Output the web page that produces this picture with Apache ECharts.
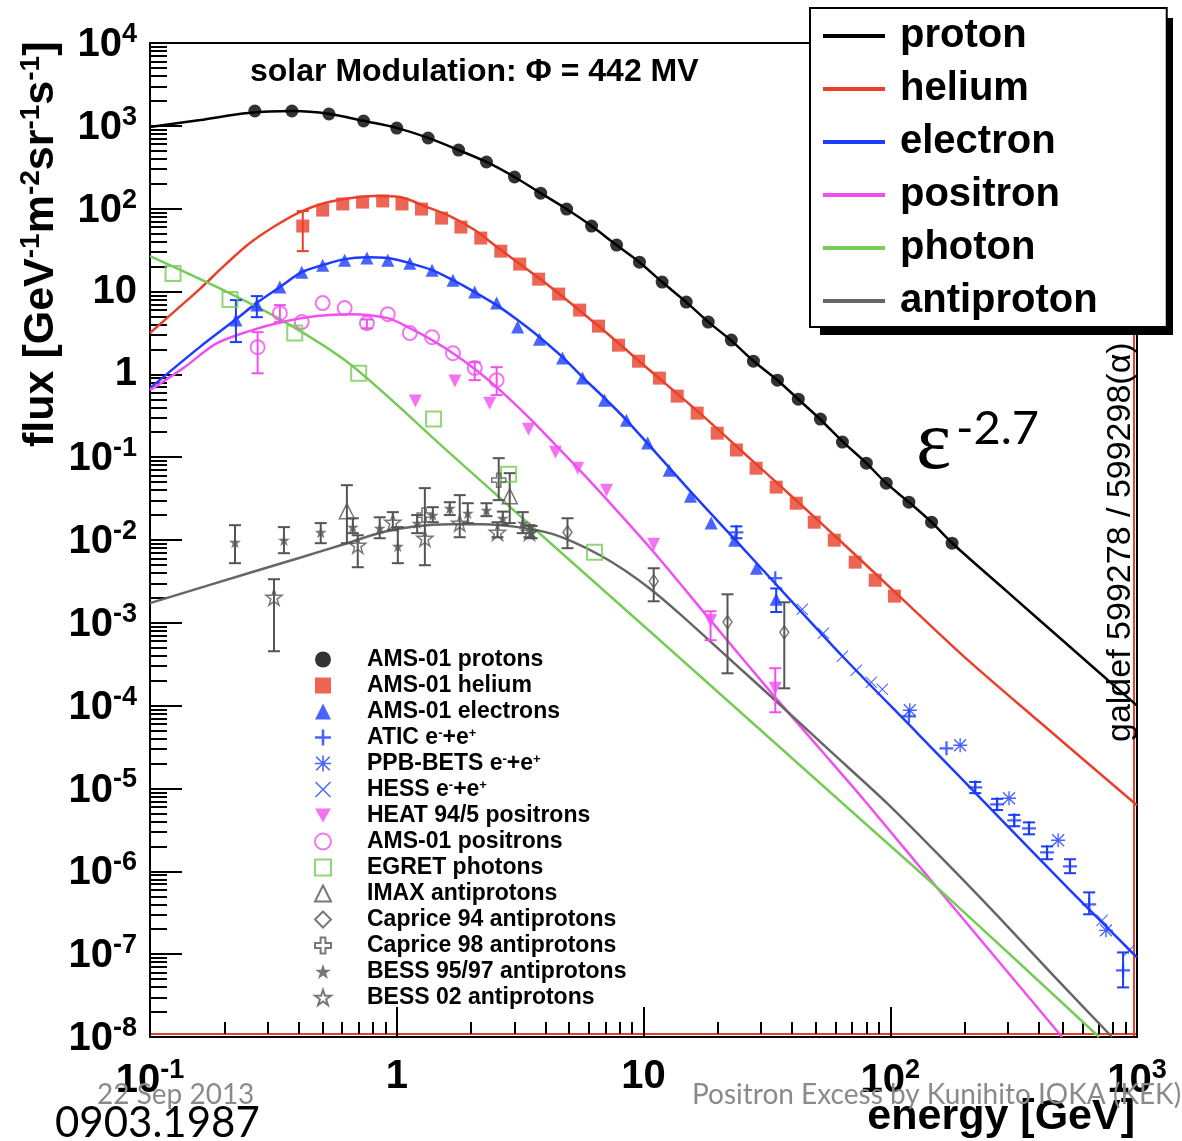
<!DOCTYPE html>
<html>
<head>
<meta charset="utf-8">
<script src="https://cdn.jsdelivr.net/npm/echarts@6/dist/echarts.min.js"></script>
<style>
html, body { margin: 0; padding: 0; background: #fff; }
#chart { width: 1182px; height: 1141px; }
</style>
</head>
<body>
<div id="chart"></div>
<script>
// axis ticks
const energyTicks = [0.1, 1, 10, 100, 1000];
const fluxTicks = [1e-8, 1e-7, 1e-6, 1e-5, 1e-4, 1e-3, 1e-2, 1e-1, 1, 10, 100, 1000, 10000];

// model curves [E (GeV), flux]
const protonModel = [[0.1, 968], [0.16, 1175], [0.25, 1430], [0.38, 1510], [0.53, 1400], [0.73, 1150], [1.0, 945], [1.34, 715], [1.78, 510], [2.31, 366], [3.0, 241], [3.83, 154], [4.88, 99], [6.16, 61.7], [7.78, 36.3], [9.63, 22.6], [11.9, 13], [14.9, 7.45], [18.3, 4.3], [22.7, 2.55], [27.9, 1.45], [34.9, 0.85], [42.4, 0.5], [52.1, 0.285], [64, 0.155], [80, 0.0847], [96.3, 0.0485], [119, 0.0286], [147, 0.0164], [178, 0.0092], [300, 2.33e-3], [500, 6.12e-4], [1000, 1.0e-4]];
const heliumModel = [[0.1, 3.15], [0.126, 5.8], [0.159, 10.7], [0.201, 20.8], [0.254, 38.4], [0.321, 61.7], [0.405, 91], [0.511, 117], [0.646, 134], [0.815, 142], [1.03, 138], [1.3, 107], [1.64, 81.4], [2.07, 55.2], [2.61, 32.5], [4.16, 11.6], [6.64, 3.72], [10.6, 1.12], [16.9, 0.34], [26.9, 0.0973], [42.8, 0.0278], [68.2, 7.74e-3], [109, 2.09e-3], [200, 3.86e-4], [400, 6.48e-5], [1000, 6.27e-6]];
const electronModel = [[0.1, 0.681], [0.159, 2.13], [0.221, 4.52], [0.27, 7.24], [0.336, 11.3], [0.412, 17.1], [0.501, 20.8], [0.615, 24.6], [0.757, 26.0], [0.92, 25.3], [1.13, 22.0], [1.39, 18.1], [1.69, 13.7], [2.07, 9.84], [2.54, 6.85], [3.09, 4.52], [3.79, 2.81], [4.7, 1.61], [5.66, 0.925], [6.95, 0.516], [8.53, 0.28], [15.6, 0.0378], [23.8, 9.68e-3], [39.0, 1.95e-3], [64, 3.95e-4], [131, 4.42e-5], [276, 4.49e-6], [531, 6.07e-7], [1000, 9.14e-8]];
const positronModel = [[0.1, 0.645], [0.136, 1.18], [0.186, 2.36], [0.254, 3.35], [0.347, 4.31], [0.473, 5.05], [0.646, 5.33], [0.92, 4.77], [1.13, 3.61], [1.39, 2.59], [1.69, 1.8], [2.07, 1.16], [2.54, 0.7], [3.45, 0.296], [4.4, 0.14], [5.66, 0.0641], [7.08, 0.0311], [11.1, 6.93e-3], [18.7, 1.07e-3], [34.2, 1.26e-4], [51.6, 3.06e-5], [78.5, 7.2e-6], [173, 4.26e-7], [497, 1e-8]];
const photonModel = [[0.1, 26.8], [0.187, 11.3], [0.347, 4.39], [0.646, 1.33], [1.64, 0.112], [4.16, 9.4e-3], [10.6, 7.92e-4], [26.9, 6.67e-5], [68.2, 5.61e-6], [173, 4.72e-7], [702, 1e-8]];
const antiprotonModel = [[0.1, 1.73e-3], [0.254, 4.02e-3], [0.405, 6.11e-3], [0.625, 9.08e-3], [0.881, 0.0125], [1.2, 0.0147], [1.64, 0.0155], [2.24, 0.0155], [3.05, 0.0144], [4.16, 0.0121], [5.26, 9.31e-3], [6.64, 6.59e-3], [8.38, 4.32e-3], [10.57, 2.61e-3], [13.99, 1.29e-3], [22.3, 3.67e-4], [35.2, 1.07e-4], [56.6, 2.9e-5], [97.2, 6.62e-6], [173, 1.18e-6], [276, 2.78e-7], [440, 6.28e-8], [792, 1e-8]];

// measurements [E, flux, (low, high)]
const amsProtons = [[0.266, 1510], [0.376, 1510], [0.531, 1390], [0.734, 1143], [1.0, 940], [1.34, 713], [1.78, 510], [2.31, 366], [3.0, 241], [3.83, 154], [4.88, 98.9], [6.16, 61.7], [7.78, 36.3], [9.63, 22.6], [11.9, 13.0], [14.9, 7.45], [18.3, 4.27], [22.7, 2.59], [27.9, 1.44], [34.9, 0.851], [42.4, 0.501], [52.1, 0.288], [64.0, 0.152], [80.0, 0.0847], [96.3, 0.0485], [119, 0.0286], [147, 0.0164], [178, 0.00915]];
const amsHelium = [[0.416, 61.7, 30.7, 93.5], [0.501, 96.2], [0.604, 114], [0.727, 120], [0.877, 124], [1.05, 114], [1.26, 98.9], [1.52, 76.9], [1.82, 60.0], [2.19, 44.2], [2.64, 30.7], [3.15, 21.4], [3.76, 14.1], [4.53, 9.31], [5.51, 5.96], [6.57, 3.82], [7.92, 2.25], [9.55, 1.44], [11.6, 0.9], [13.7, 0.546], [16.5, 0.34], [19.9, 0.195], [23.8, 0.122], [28.6, 0.0736], [34.5, 0.0435], [41.6, 0.0278], [49.2, 0.0164], [59.3, 0.00995], [72.1, 0.0054], [86.9, 0.00327], [104, 0.0021]];
const amsElectrons = [[0.223, 4.52, 2.45, 7.87], [0.271, 6.85, 4.9, 8.8], [0.336, 11.3], [0.412, 17.1], [0.501, 20.8], [0.615, 23.9], [0.757, 25.3], [0.92, 23.9], [1.13, 22.0], [1.39, 18.1], [1.69, 13.7], [2.07, 9.84], [2.54, 7.24], [3.09, 3.72], [3.79, 2.66], [4.7, 1.57], [5.66, 0.9], [6.95, 0.488], [8.53, 0.28], [10.4, 0.148], [12.7, 0.0697], [15.5, 0.0338], [18.8, 0.016], [23.4, 0.00995], [28.7, 0.00456], [34.5, 0.00193, 0.00135, 0.0026]];
const aticEE = [[23.8, 0.0124, 0.0105, 0.0146], [34.2, 0.00346], [119, 7.45e-5], [169, 3.06e-5], [221, 1.03e-5, 8.8e-6, 1.2e-5], [271, 6.44e-6, 5.5e-6, 7.5e-6], [318, 4.13e-6, 3.5e-6, 4.8e-6], [365, 3.31e-6, 2.8e-6, 3.9e-6], [432, 1.69e-6, 1.4e-6, 2.0e-6], [535, 1.15e-6, 9.5e-7, 1.4e-6], [640, 3.99e-7, 3.03e-7, 5.57e-7], [878, 6.37e-8, 3.97e-8, 1.05e-7]];
const ppbBetsEE = [[120, 8.79e-5], [192, 3.33e-5], [303, 7.62e-6], [479, 2.37e-6], [749, 1.94e-7]];
const hessEE = [[44.0, 0.00146], [53.6, 7.48e-4], [64.0, 3.95e-4], [72.8, 2.68e-4], [83.8, 1.92e-4], [92.9, 1.58e-4], [722, 2.56e-7], [929, 1.11e-7]];
const heatPositrons = [[1.19, 0.475], [1.72, 0.828], [2.38, 0.449], [3.42, 0.218], [4.4, 0.115], [5.41, 0.0736], [7.08, 0.0399], [11.0, 0.00889], [18.7, 0.00107, 6.17e-4, 0.00138], [34.2, 1.62e-4, 8.32e-5, 2.83e-4]];
const amsPositrons = [[0.273, 2.13, 1.03, 3.23], [0.336, 5.48, 4.27, 6.85], [0.412, 4.27], [0.501, 7.24], [0.615, 6.3], [0.757, 4.15, 3.6, 4.6], [0.92, 5.33], [1.13, 3.15], [1.39, 2.81], [1.69, 1.8], [2.07, 1.19, 0.85, 1.4], [2.54, 0.851, 0.561, 1.22]];
const egretPhotons = [[0.124, 16.5], [0.211, 8.03], [0.386, 3.15], [0.701, 1.03], [1.41, 0.288], [2.84, 0.0623], [6.33, 0.00713]];
const imaxPbar = [[0.628, 0.0223, 0.00915, 0.0459], [2.87, 0.0338, 0.016, 0.0641]];
const caprice94Pbar = [[4.92, 0.0124, 0.00796, 0.0183], [11.0, 0.00318, 0.00182, 0.00456], [21.9, 0.00102, 2.46e-4, 0.00221], [37.2, 7.69e-4, 1.62e-4, 0.00177]];
const caprice98Pbar = [[1.29, 0.02], [2.59, 0.0527, 0.0303, 0.0973]];
const bess9597Pbar = [[0.221, 9.4e-3, 5.25e-3, 0.0151], [0.349, 9.95e-3, 6.93e-3, 0.0143], [0.492, 0.0124, 9.15e-3, 0.016], [0.664, 0.0143, 0.0121, 0.0183], [0.853, 0.0139, 0.0105, 0.0188], [1.01, 8.41e-3, 5.25e-3, 0.0143], [1.21, 0.016, 0.0121, 0.02], [1.4, 0.02, 0.0164, 0.0249], [1.64, 0.0242, 0.02, 0.0286], [1.94, 0.0211, 0.016, 0.0278], [2.31, 0.0229, 0.0194, 0.0278], [2.69, 0.0183, 0.0152, 0.022], [3.24, 0.016, 0.0121, 0.0217], [3.52, 0.0124, 0.0105, 0.0148]];
const bess02Pbar = [[0.318, 2.04e-3, 4.54e-4, 3.36e-3], [0.695, 8.65e-3, 4.69e-3, 0.0114], [0.964, 0.0164, 0.0131, 0.0217], [1.3, 0.0105, 4.96e-3, 0.0423], [1.8, 0.016, 0.0108, 0.0348], [2.56, 0.0124, 0.0108, 0.0164], [3.45, 0.0124, 0.0108, 0.0151]];

const C = { p: '#000000', he: '#e8402a', e: '#1c3cff', pos: '#f050f0', ph: '#76cc58', pbar: '#666666', pbarPt: '#555555' };
const FONT = 'Liberation Sans';

// symbols
const PLUS = 'path://M42,0H58V100H42Z M0,42H100V58H0Z';
const XMARK = 'path://M6,0L50,44L94,0L100,6L56,50L100,94L94,100L50,56L6,100L0,94L44,50L0,6Z';
const ASTER = 'path://M45,0H55V100H45Z M0,45H100V55H0Z M11,4L96,89L89,96L4,11Z M89,4L96,11L11,96L4,89Z';
const STAR = 'path://M50,0L61.8,35.5L99,35.5L69,57.5L80.5,93L50,71L19.5,93L31,57.5L1,35.5L38.2,35.5Z';
const CROSS = 'path://M35,0H65V35H100V65H65V100H35V65H0V35H35Z';
const DOWN = 'path://M0,0H100L50,87Z';
const NOFILL = 'rgba(255,255,255,0)';

// minor tick positions 2..9 per decade
const minorOf = (decades) => {
    let out = [];
    decades.slice(0, -1).forEach(d => { for (let m = 2; m <= 9; m++) out.push(m * d); });
    return out;
};

const labelRich = {
    b: { fontSize: 40, fontWeight: 'bold', fontFamily: FONT, color: '#000', verticalAlign: 'bottom' },
    s: { fontSize: 27, fontWeight: 'bold', fontFamily: FONT, color: '#000', verticalAlign: 'top', padding: [0, 0, 17, 0] }
};
const powLabel = (v) => {
    let k = Math.round(Math.log10(v));
    if (k === 0) return '{b|1}';
    if (k === 1) return '{b|10}';
    return '{b|10}{s|' + k + '}';
};

// error bars
const errBars = (data, color) => ({
    type: 'custom',
    data: data.filter(d => d.length > 3),
    encode: { x: 0, y: 1 },
    z: 3,
    silent: true,
    renderItem: (params, api) => {
        let lo = api.coord([api.value(0), api.value(2)]);
        let hi = api.coord([api.value(0), api.value(3)]);
        let w = 6;
        let st = { stroke: color, lineWidth: 2 };
        return {
            type: 'group',
            children: [
                { type: 'line', shape: { x1: lo[0], y1: lo[1], x2: hi[0], y2: hi[1] }, style: st },
                { type: 'line', shape: { x1: lo[0] - w, y1: lo[1], x2: lo[0] + w, y2: lo[1] }, style: st },
                { type: 'line', shape: { x1: hi[0] - w, y1: hi[1], x2: hi[0] + w, y2: hi[1] }, style: st }
            ]
        };
    }
});

const curve = (name, data, color) => ({
    type: 'line', name: name, data: data, showSymbol: false, smooth: 0.3, z: 2, silent: true,
    lineStyle: { color: color, width: 2.5 }, itemStyle: { color: color }
});

const points = (name, data, symbol, size, color, open, extra) => Object.assign({
    type: 'scatter', name: name, data: data.map(d => [d[0], d[1]]), symbol: symbol, symbolSize: size, z: 4, silent: true,
    itemStyle: open ? { color: NOFILL, borderColor: color, borderWidth: 2 } : { color: color }
}, extra || {});

const thin = (color) => ({ itemStyle: { color: NOFILL, borderColor: color, borderWidth: 1.5 } });

const markerNames = ['AMS-01 protons', 'AMS-01 helium', 'AMS-01 electrons', 'ATIC e-+e+', 'PPB-BETS e-+e+', 'HESS e-+e+', 'HEAT 94/5 positrons', 'AMS-01 positrons', 'EGRET photons', 'IMAX antiprotons', 'Caprice 94 antiprotons', 'Caprice 98 antiprotons', 'BESS 95/97 antiprotons', 'BESS 02 antiprotons'];

const chart = echarts.init(document.getElementById('chart'));

const option = {
    animation: false,
    backgroundColor: '#fff',
    grid: { left: 150, right: 45, top: 43, bottom: 104, show: true, borderColor: '#000', borderWidth: 2, backgroundColor: NOFILL },
    xAxis: [
        {
            type: 'log', logBase: 10, min: 0.1, max: 1000, position: 'bottom',
            axisLine: { show: true, onZero: false, lineStyle: { color: '#000', width: 2 } },
            axisTick: { show: true, inside: true, length: 30, customValues: energyTicks, lineStyle: { color: '#000', width: 2 } },
            axisLabel: { customValues: energyTicks, margin: 20, formatter: powLabel, rich: labelRich },
            splitLine: { show: false }, minorTick: { show: false }
        },
        {
            type: 'log', logBase: 10, min: 0.1, max: 1000, position: 'bottom', offset: -3,
            axisLine: { show: true, onZero: false, lineStyle: { color: '#e8402a', width: 2 } },
            axisTick: { show: true, inside: true, length: 12, customValues: minorOf(energyTicks), lineStyle: { color: '#000', width: 2 } },
            axisLabel: { show: false }, splitLine: { show: false }
        }
    ],
    yAxis: [
        {
            type: 'log', logBase: 10, min: 1e-8, max: 1e4, position: 'left',
            axisLine: { show: true, onZero: false, lineStyle: { color: '#000', width: 2 } },
            axisTick: { show: true, inside: true, length: 32, customValues: fluxTicks, lineStyle: { color: '#000', width: 2 } },
            axisLabel: { customValues: fluxTicks, margin: 13, formatter: powLabel, rich: labelRich },
            splitLine: { show: false }
        },
        {
            type: 'log', logBase: 10, min: 1e-8, max: 1e4, position: 'left',
            axisLine: { show: false },
            axisTick: { show: true, inside: true, length: 17, customValues: minorOf(fluxTicks), lineStyle: { color: '#000', width: 2 } },
            axisLabel: { show: false }, splitLine: { show: false }
        },
        {
            type: 'log', logBase: 10, min: 1e-8, max: 1e4, position: 'right', offset: -3,
            axisLine: { show: true, onZero: false, lineStyle: { color: '#e8402a', width: 2 } },
            axisTick: { show: false }, axisLabel: { show: false }, splitLine: { show: false }
        }
    ],
    legend: [
        {
            data: ['proton', 'helium', 'electron', 'positron', 'photon', 'antiproton'],
            orient: 'vertical', left: 810, top: 8, padding: [8, 69, 6, 13],
            icon: 'rect', itemWidth: 62, itemHeight: 4, itemGap: 13, selectedMode: false,
            backgroundColor: '#fff', borderColor: '#000', borderWidth: 2,
            textStyle: { fontSize: 40, fontWeight: 'bold', fontFamily: FONT, color: '#000', lineHeight: 40, padding: [0, 0, 0, 10] },
            z: 10
        },
        {
            data: markerNames.map(n => n === 'HEAT 94/5 positrons' ? { name: n, icon: DOWN } : n),
            orient: 'vertical', left: 309, top: 643, padding: 5,
            itemWidth: 16, itemHeight: 16, itemGap: 3, selectedMode: false,
            formatter: (n) => n.replace('e-+e+', 'e{s|-}+e{s|+}'),
            textStyle: {
                fontSize: 23, fontWeight: 'bold', fontFamily: FONT, color: '#000', lineHeight: 22, padding: [0, 0, 0, 31],
                rich: { s: { fontSize: 13, fontWeight: 'bold', fontFamily: FONT, verticalAlign: 'top', padding: [0, 0, 9, 0] } }
            },
            z: 10
        }
    ],
    graphic: [
        { type: 'rect', z: 9, shape: { x: 820, y: 18, width: 353, height: 317 }, style: { fill: '#000' } },
        { type: 'text', x: 250, y: 72, z: 100, style: { text: 'solar Modulation: Φ = 442 MV', fontSize: 32, fontWeight: 'bold', fontFamily: FONT, fill: '#000', verticalAlign: 'middle' } },
        { type: 'text', x: 916, y: 446, z: 100, style: { text: 'ε', fontSize: 84, fontFamily: 'Liberation Serif', fill: '#000', verticalAlign: 'middle' } },
        { type: 'text', x: 956, y: 429, z: 100, style: { text: '-2.7', fontSize: 47, fontFamily: 'Lato', fill: '#000', verticalAlign: 'middle' } },
        { type: 'text', x: 1121, y: 742, rotation: Math.PI / 2, z: 100, style: { text: 'galdef 599278 / 599298(α)', fontSize: 34, fontFamily: FONT, fill: '#000', align: 'left', verticalAlign: 'middle' } },
        {
            type: 'text', x: 40, y: 447, rotation: Math.PI / 2, z: 100,
            style: {
                text: '{b|flux [GeV}{s|-1}{b|m}{s|-2}{b|sr}{s|-1}{b|s}{s|-1}{b|]}', align: 'left', verticalAlign: 'middle',
                rich: {
                    b: { fontSize: 43, fontWeight: 'bold', fontFamily: FONT, fill: '#000', verticalAlign: 'bottom' },
                    s: { fontSize: 28, fontWeight: 'bold', fontFamily: FONT, fill: '#000', verticalAlign: 'top', padding: [0, 0, 18, 0] }
                }
            }
        },
        { type: 'text', x: 1135, y: 1117, z: 100, style: { text: 'energy [GeV]', fontSize: 43, fontWeight: 'bold', fontFamily: FONT, fill: '#000', align: 'right', verticalAlign: 'middle' } },
        { type: 'text', x: 97, y: 1095, z: 100, style: { text: '22 Sep 2013', fontSize: 28, fontFamily: 'Lato', fill: '#8a8a8a', verticalAlign: 'middle' } },
        { type: 'text', x: 692, y: 1095, z: 100, style: { text: 'Positron Excess by Kunihito IOKA (KEK)', fontSize: 28, fontFamily: 'Lato', fill: '#8a8a8a', verticalAlign: 'middle' } },
        { type: 'text', x: 55, y: 1123, z: 100, style: { text: '0903.1987', fontSize: 42, fontFamily: 'Lato', fill: '#000', verticalAlign: 'middle' } }
    ],
    series: [
        curve('proton', protonModel, C.p),
        curve('helium', heliumModel, C.he),
        curve('electron', electronModel, C.e),
        curve('positron', positronModel, C.pos),
        curve('photon', photonModel, C.ph),
        curve('antiproton', antiprotonModel, C.pbar),

        errBars(amsHelium, C.he),
        errBars(amsElectrons, C.e),
        errBars(aticEE, C.e),
        errBars(heatPositrons, C.pos),
        errBars(amsPositrons, C.pos),
        errBars(imaxPbar, C.pbarPt),
        errBars(caprice94Pbar, C.pbarPt),
        errBars(caprice98Pbar, C.pbarPt),
        errBars(bess9597Pbar, C.pbarPt),
        errBars(bess02Pbar, C.pbarPt),

        points('AMS-01 protons', amsProtons, 'circle', 13, C.p),
        points('AMS-01 helium', amsHelium, 'rect', 13, C.he),
        points('AMS-01 electrons', amsElectrons, 'triangle', 13, C.e),
        points('ATIC e-+e+', aticEE, PLUS, 14, C.e),
        points('PPB-BETS e-+e+', ppbBetsEE, ASTER, 14, C.e),
        points('HESS e-+e+', hessEE, XMARK, 12, C.e),
        points('HEAT 94/5 positrons', heatPositrons, DOWN, 13, C.pos),
        points('AMS-01 positrons', amsPositrons, 'circle', 14, C.pos, true),
        points('EGRET photons', egretPhotons, 'rect', 15, C.ph, true),
        points('IMAX antiprotons', imaxPbar, 'triangle', 15, C.pbarPt, true, thin(C.pbarPt)),
        points('Caprice 94 antiprotons', caprice94Pbar, 'diamond', [9, 13], C.pbarPt, true, thin(C.pbarPt)),
        points('Caprice 98 antiprotons', caprice98Pbar, CROSS, 14, C.pbarPt, true, thin(C.pbarPt)),
        points('BESS 95/97 antiprotons', bess9597Pbar, STAR, 12, C.pbarPt),
        points('BESS 02 antiprotons', bess02Pbar, STAR, 16, C.pbarPt, true, thin(C.pbarPt))
    ]
};

chart.setOption(option);
</script>
</body>
</html>
